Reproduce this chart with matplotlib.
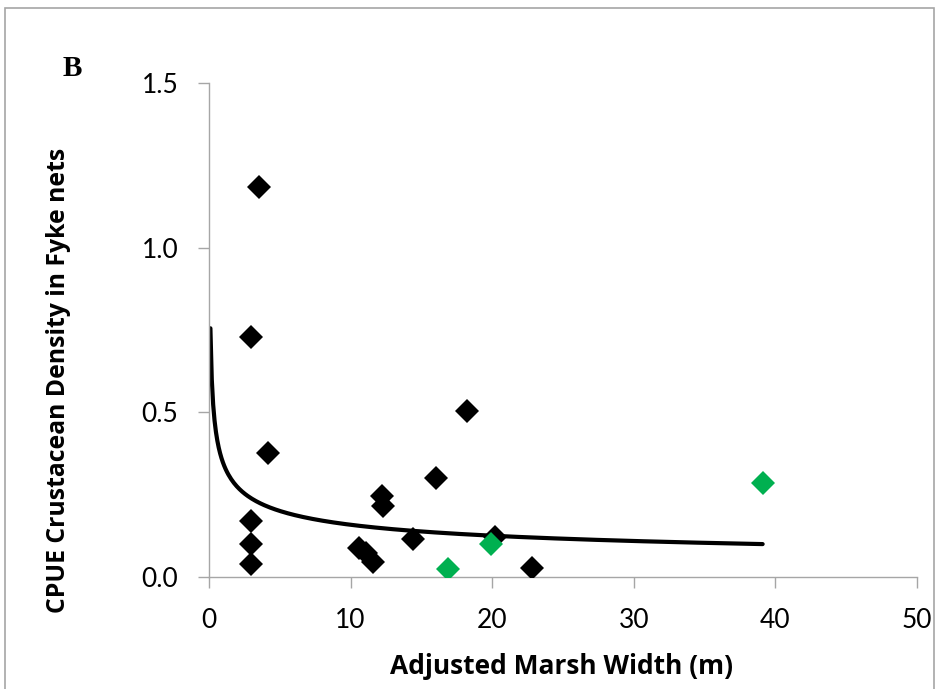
import matplotlib.pyplot as plt
import numpy as np

plt.rcParams['font.family'] = ['Lato', 'DejaVu Sans']

# 湿地宽度 (m) 与甲壳类 CPUE
width_black = [3.5, 3.0, 4.2, 3.0, 3.0, 3.0, 18.2, 16.0, 12.2, 12.3,
               10.6, 11.1, 11.6, 14.4, 20.2, 22.8]
cpue_black = [1.184, 0.729, 0.377, 0.170, 0.100, 0.040, 0.504, 0.300, 0.246, 0.216,
              0.088, 0.073, 0.046, 0.115, 0.121, 0.027]

width_green = [16.9, 19.9, 39.1]
cpue_green = [0.024, 0.100, 0.285]

# 幂函数趋势线 y = a * x^b
fit_a = 0.346
fit_b = -0.339
fit_x_range = (0.1, 39.1)

fig = plt.figure(figsize=(9.38, 6.89), dpi=100)
ax = fig.add_axes([0.2228, 0.1626, 0.7548, 0.7169])

xs = np.linspace(fit_x_range[0], fit_x_range[1], 400)
ax.plot(xs, fit_a * xs ** fit_b, color='black', linewidth=3, solid_capstyle='round', zorder=2)

ax.plot(width_black, cpue_black, 'D', color='black', markersize=12.5, markeredgewidth=0, zorder=3)
ax.plot(width_green, cpue_green, 'D', color='#00B050', markersize=12.5, markeredgewidth=0, zorder=3)

ax.set_xlim(0, 50)
ax.set_ylim(0, 1.5)
ax.set_xticks([0, 10, 20, 30, 40, 50])
ax.set_yticks([0, 0.5, 1.0, 1.5])
ax.set_yticklabels(['0.0', '0.5', '1.0', '1.5'])

for side in ['top', 'right']:
    ax.spines[side].set_visible(False)
for side in ['left', 'bottom']:
    ax.spines[side].set_color('#A6A6A6')
    ax.spines[side].set_linewidth(1)
ax.tick_params(direction='out', length=8, width=1, color='#A6A6A6', labelsize=19)
ax.tick_params(axis='y', pad=14)
ax.tick_params(axis='x', pad=14)

ax.set_xlabel('Adjusted Marsh Width (m)', fontsize=19, fontweight='bold',
              family='Open Sans', va='center')
ax.set_ylabel('CPUE Crustacean Density in Fyke nets', fontsize=17.8, fontweight='bold',
              family='Open Sans', va='center')
ax.xaxis.set_label_coords(0.4986, -0.182)
ax.yaxis.set_label_coords(-0.212, 0.399)

fig.text(0.077, 0.9, 'B', fontsize=21, fontweight='bold', family='Liberation Serif',
         ha='center', va='center')

# 外框
fig.patches.append(plt.Rectangle((0.0055, -0.01), 0.99, 0.998, transform=fig.transFigure,
                                 fill=False, edgecolor='#A6A6A6', linewidth=1.2))

fig.savefig('out.png', dpi=100)
